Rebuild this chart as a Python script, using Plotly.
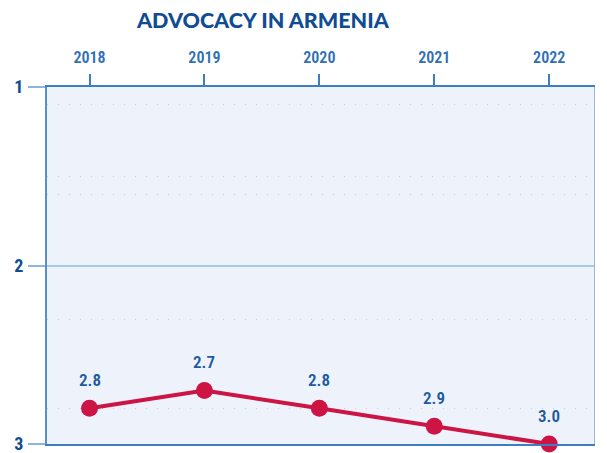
import plotly.graph_objects as go

years = [2018, 2019, 2020, 2021, 2022]
scores = [2.8, 2.7, 2.8, 2.9, 3.0]
labels = ["2.8", "2.7", "2.8", "2.9", "3.0"]
y_ticks = [1, 2, 3]
y_tick_text = ["1", "2", "3"]
dotted_levels = [1.1, 1.5, 1.6, 2.3, 2.8]

title_color = "#0f4c92"
label_color = "#1d5a9e"
year_color = "#2e6fb5"
line_red = "#cc1445"
narrow = "Roboto Condensed, Roboto, sans-serif"

fig = go.Figure()
fig.add_trace(go.Scatter(
    x=years, y=scores, mode="lines+markers",
    line=dict(color=line_red, width=4),
    marker=dict(color=line_red, size=17),
    cliponaxis=False, showlegend=False, hoverinfo="skip",
))
# invisible trace for the second y axis (dotted guide lines)
fig.add_trace(go.Scatter(x=[years[0]], y=[2], yaxis="y2", mode="markers",
                         marker=dict(opacity=0), showlegend=False, hoverinfo="skip"))

for xv, yv, t in zip(years, scores, labels):
    fig.add_annotation(x=xv, y=yv, text=t, showarrow=False, yshift=28,
                       font=dict(family=narrow, size=17, color=label_color, weight=600))

fig.update_layout(
    width=607, height=453,
    margin=dict(l=39, r=21, t=79, b=17),
    paper_bgcolor="white", plot_bgcolor="#eef3fb",
    title=dict(text="ADVOCACY IN ARMENIA", x=0.42, xanchor="center", y=0.99, yanchor="top",
               font=dict(family="Lato", size=21.5, color=title_color, weight=900)),
    xaxis=dict(
        side="top", range=[2017.63, 2022.39], tickvals=years,
        ticktext=[str(y) for y in years], automargin=False,
        ticks="outside", ticklen=11, tickwidth=2, tickcolor="#3d7dc1",
        ticklabelstandoff=5,
        tickfont=dict(family=narrow, size=16, color=year_color, weight=600),
        showgrid=False, zeroline=False,
        showline=True, mirror=True, linecolor="#3d7dc1", linewidth=2,
    ),
    yaxis=dict(
        range=[3, 1], tickvals=y_ticks, ticktext=y_tick_text, automargin=False,
        ticks="outside", ticklen=17, tickwidth=2, tickcolor="#8db6df",
        ticklabelstandoff=1,
        tickfont=dict(family=narrow, size=18, color=title_color, weight=700),
        showgrid=True, gridcolor="#a9c9e8", gridwidth=2,
        zeroline=False, showline=True, linecolor="#5a8fc9", linewidth=2,
    ),
    yaxis2=dict(
        overlaying="y", side="right", range=[3, 1], tickvals=dotted_levels,
        showticklabels=False, ticks="", showgrid=True, automargin=False,
        gridcolor="#c9ced6", gridwidth=1, griddash="1px,10px",
        zeroline=False, showline=True, linecolor="#9ab8d8", linewidth=1,
    ),
)

fig.write_html("out.html")
